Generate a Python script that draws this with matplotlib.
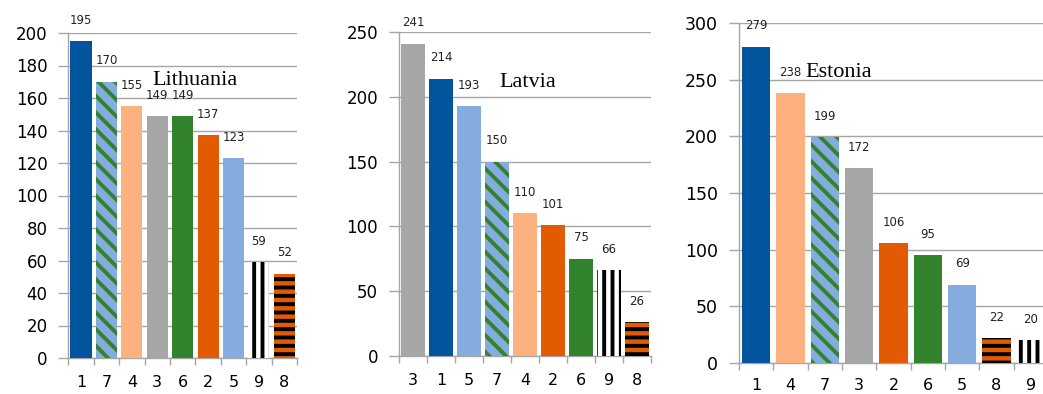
import matplotlib
matplotlib.use("Agg")
import matplotlib.pyplot as plt

# data
lt_cats = ['1', '7', '4', '3', '6', '2', '5', '9', '8']
lt_vals = [195, 170, 155, 149, 149, 137, 123, 59, 52]
lv_cats = ['3', '1', '5', '7', '4', '2', '6', '9', '8']
lv_vals = [241, 214, 193, 150, 110, 101, 75, 66, 26]
ee_cats = ['1', '4', '7', '3', '2', '6', '5', '8', '9']
ee_vals = [279, 238, 199, 172, 106, 95, 69, 22, 20]

# look of each category: (face, hatch, hatch colour)
style = {
    '1': ('#02549C', None, None),
    '2': ('#E25B02', None, None),
    '3': ('#A6A6A6', None, None),
    '4': ('#FDB17F', None, None),
    '5': ('#84ACDF', None, None),
    '6': ('#32822E', None, None),
    '7': ('#84ACDF', '\\\\', '#32822E'),
    '8': ('#E25B02', '--', 'black'),
    '9': ('white', '||', 'black'),
}

plt.rcParams['hatch.linewidth'] = 2.8
grid_c = '#A6A6A6'

W, H = 1043, 394
fig = plt.figure(figsize=(W / 100, H / 100), dpi=100)

# left, right, bottom, top in pixels ; ymax, ystep, title, title pos, ylabel size, xlabel pad
panels = [
    (lt_cats, lt_vals, (68.3, 297, 358, 33), 200, 20, 'Lithuania', (4.49, 171), 12, 12),
    (lv_cats, lv_vals, (399, 651, 356, 32), 250, 50, 'Latvia', (4.09, 211), 12, 12),
    (ee_cats, ee_vals, (739, 1048, 363, 23), 300, 50, 'Estonia', (2.41, 256), 12.5, 11),
]

for cats, vals, (l, r, b, t), ymax, ystep, title, tpos, ysz, xpad in panels:
    ax = fig.add_axes([l / W, 1 - b / H, (r - l) / W, (b - t) / H])
    x = range(len(cats))
    for i, (c, v) in enumerate(zip(cats, vals)):
        face, hatch, hc = style[c]
        if hatch:
            ax.bar(i, v, width=0.83, color=face, edgecolor=hc, hatch=hatch,
                   linewidth=0, zorder=3)
        else:
            ax.bar(i, v, width=0.83, color=face, linewidth=0, zorder=3)
        ax.annotate(str(v), (i, v), xytext=(0, 15), textcoords='offset points',
                    ha='center', va='center', fontsize=8.5, color='#222222')
    ax.set_xlim(-0.5, len(cats) - 0.5)
    ax.set_ylim(0, ymax)
    ax.set_yticks(range(0, ymax + 1, ystep))
    ax.set_xticks(list(x))
    ax.set_xticklabels(cats)
    ax.set_xticks([k - 0.5 for k in range(len(cats) + 1)], minor=True)
    ax.tick_params(axis='x', which='major', length=0, pad=xpad, labelsize=11.5)
    ax.tick_params(axis='x', which='minor', length=5, width=1, color=grid_c)
    ax.tick_params(axis='y', length=7, width=1, color=grid_c, pad=8,
                   labelsize=ysz)
    ax.yaxis.grid(True, color=grid_c, linewidth=1, zorder=0)
    ax.set_axisbelow(True)
    for s in ['top', 'right']:
        ax.spines[s].set_visible(False)
    for s in ['left', 'bottom']:
        ax.spines[s].set_color(grid_c)
        ax.spines[s].set_linewidth(1)
    ax.text(tpos[0], tpos[1], title, ha='center', va='center',
            family='Liberation Serif', fontsize=16, zorder=5)

fig.savefig('out.png', dpi=100)
